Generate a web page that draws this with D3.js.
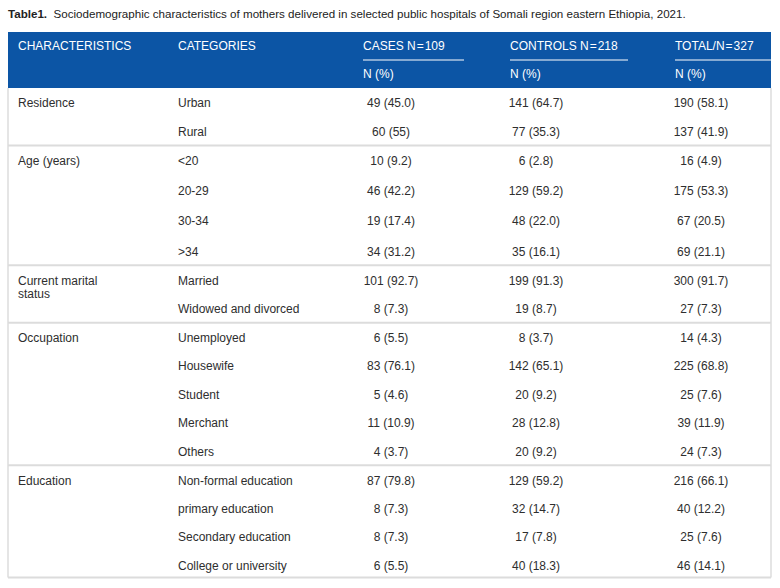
<!DOCTYPE html>
<html><head><meta charset="utf-8">
<script src="https://cdn.jsdelivr.net/npm/d3@7/dist/d3.min.js"></script>
<style>
html,body{margin:0;padding:0;background:#fff;}
svg{display:block;font-family:"Liberation Sans",Arial,Helvetica,sans-serif;}
</style></head>
<body><svg id="chart" width="780" height="588"></svg>
<script>
// ---- data ----
const titleBold = "Table1.";
const titleText = "Sociodemographic characteristics of mothers delivered in selected public hospitals of Somali region eastern Ethiopia, 2021.";
const headerTop = ["CHARACTERISTICS", "CATEGORIES", "CASES N\u200A=\u200A109", "CONTROLS N\u200A=\u200A218", "TOTAL/N\u200A=\u200A327"];
const headerSub = ["N (%)", "N (%)", "N (%)"];
const characteristics = ["Residence", "Age (years)", "Current marital status", "Occupation", "Education"];
const categoryGroup = [0,0,1,1,1,1,2,2,3,3,3,3,3,4,4,4,4];
const categories = ["Urban","Rural","<20","20-29","30-34",">34","Married","Widowed and divorced","Unemployed","Housewife","Student","Merchant","Others","Non-formal education","primary education","Secondary education","College or university"];
const casesN = [49,60,10,46,19,34,101,8,6,83,5,11,4,87,8,8,6];
const casesPct = ["45.0","55","9.2","42.2","17.4","31.2","92.7","7.3","5.5","76.1","4.6","10.9","3.7","79.8","7.3","7.3","5.5"];
const controlsN = [141,77,6,129,48,35,199,19,8,142,20,28,20,129,32,17,40];
const controlsPct = ["64.7","35.3","2.8","59.2","22.0","16.1","91.3","8.7","3.7","65.1","9.2","12.8","9.2","59.2","14.7","7.8","18.3"];
const totalN = [190,137,16,175,67,69,300,27,14,225,25,39,24,216,40,25,46];
const totalPct = ["58.1","41.9","4.9","53.3","20.5","21.1","91.7","7.3","4.3","68.8","7.6","11.9","7.3","66.1","12.2","7.6","14.1"];

// ---- layout ----
const svg = d3.select("#chart");
const left = 8, right = 771;
const headTop = 32, headBottom = 88;
const blue = "#0c55a5", textCol = "#2e2e2e", lineCol = "#dcdcdc";
const colLeft = [18, 178, 363, 510, 675];
const colCenter = [391, 536, 701];
const underline = [[363, 464], [510, 628], [675, 771]];

// title
const t = svg.append("text").attr("x", 8).attr("y", 18).attr("font-size", 11.6).attr("fill", "#222");
t.append("tspan").attr("font-weight", "bold").text(titleBold);
t.append("tspan").text("\u00a0 " + titleText);

// header
svg.append("rect").attr("x", left).attr("y", headTop).attr("width", right - left).attr("height", headBottom - headTop).attr("fill", blue);
svg.selectAll("text.h1").data(headerTop).join("text").attr("class", "h1")
  .attr("x", (d, i) => colLeft[i]).attr("y", 50).attr("font-size", 12).attr("fill", "#fff").text(d => d);
svg.selectAll("line.ul").data(underline).join("line").attr("class", "ul")
  .attr("x1", d => d[0]).attr("x2", d => d[1]).attr("y1", 60).attr("y2", 60)
  .attr("stroke", "#fff").attr("stroke-width", 1);
svg.selectAll("text.h2").data(headerSub).join("text").attr("class", "h2")
  .attr("x", (d, i) => colLeft[i + 2]).attr("y", 78).attr("font-size", 12).attr("fill", "#fff").text(d => d);

// row positions
const rowY = [];
const groupTop = [], groupBottom = [], groupFirst = [];
let y = headBottom;
characteristics.forEach((g, gi) => {
  const idx = categoryGroup.map((c, i) => c === gi ? i : -1).filter(i => i >= 0);
  const h = gi === 1 ? 30.3 : 28.4;
  groupTop.push(y);
  let c = y + 15;
  groupFirst.push(c);
  idx.forEach((ri, k) => { rowY[ri] = c + k * h; });
  const last = c + (idx.length - 1) * h;
  y = last + (gi === characteristics.length - 1 ? 12 : 14);
  groupBottom.push(y);
});
const tableBottom = y;

// body frame
svg.append("line").attr("x1", left).attr("x2", left).attr("y1", headBottom).attr("y2", tableBottom).attr("stroke", lineCol).attr("stroke-width", 1.5);
svg.append("line").attr("x1", right).attr("x2", right).attr("y1", headBottom).attr("y2", tableBottom).attr("stroke", lineCol).attr("stroke-width", 1.5);
svg.selectAll("line.sep").data(groupBottom).join("line").attr("class", "sep")
  .attr("x1", left).attr("x2", right).attr("y1", d => d).attr("y2", d => d)
  .attr("stroke", lineCol).attr("stroke-width", 2);

// characteristics (wrapped)
svg.selectAll("text.ch").data(characteristics).join("text").attr("class", "ch")
  .attr("x", colLeft[0]).attr("y", (d, i) => groupFirst[i])
  .attr("font-size", 12).attr("fill", textCol)
  .each(function(d) {
    const el = d3.select(this);
    const words = d.split(" ");
    let line = [];
    let tspan = el.append("tspan").attr("x", colLeft[0]).attr("dy", "0.35em");
    words.forEach(w => {
      line.push(w);
      tspan.text(line.join(" "));
      if (tspan.node().getComputedTextLength() > 100 && line.length > 1) {
        line.pop();
        tspan.text(line.join(" "));
        line = [w];
        tspan = el.append("tspan").attr("x", colLeft[0]).attr("dy", "1.1em").text(w);
      }
    });
  });

// categories
svg.selectAll("text.cat").data(categories).join("text").attr("class", "cat")
  .attr("x", colLeft[1]).attr("y", (d, i) => rowY[i]).attr("dy", "0.35em")
  .attr("font-size", 12).attr("fill", textCol).text(d => d);

// value columns
const valueCols = [
  casesN.map((n, i) => `${n} (${casesPct[i]})`),
  controlsN.map((n, i) => `${n} (${controlsPct[i]})`),
  totalN.map((n, i) => `${n} (${totalPct[i]})`)
];
valueCols.forEach((vals, ci) => {
  svg.selectAll("text.v" + ci).data(vals).join("text").attr("class", "v" + ci)
    .attr("x", colCenter[ci]).attr("y", (d, i) => rowY[i]).attr("dy", "0.35em")
    .attr("text-anchor", "middle").attr("font-size", 12).attr("fill", textCol).text(d => d);
});
</script></body></html>
